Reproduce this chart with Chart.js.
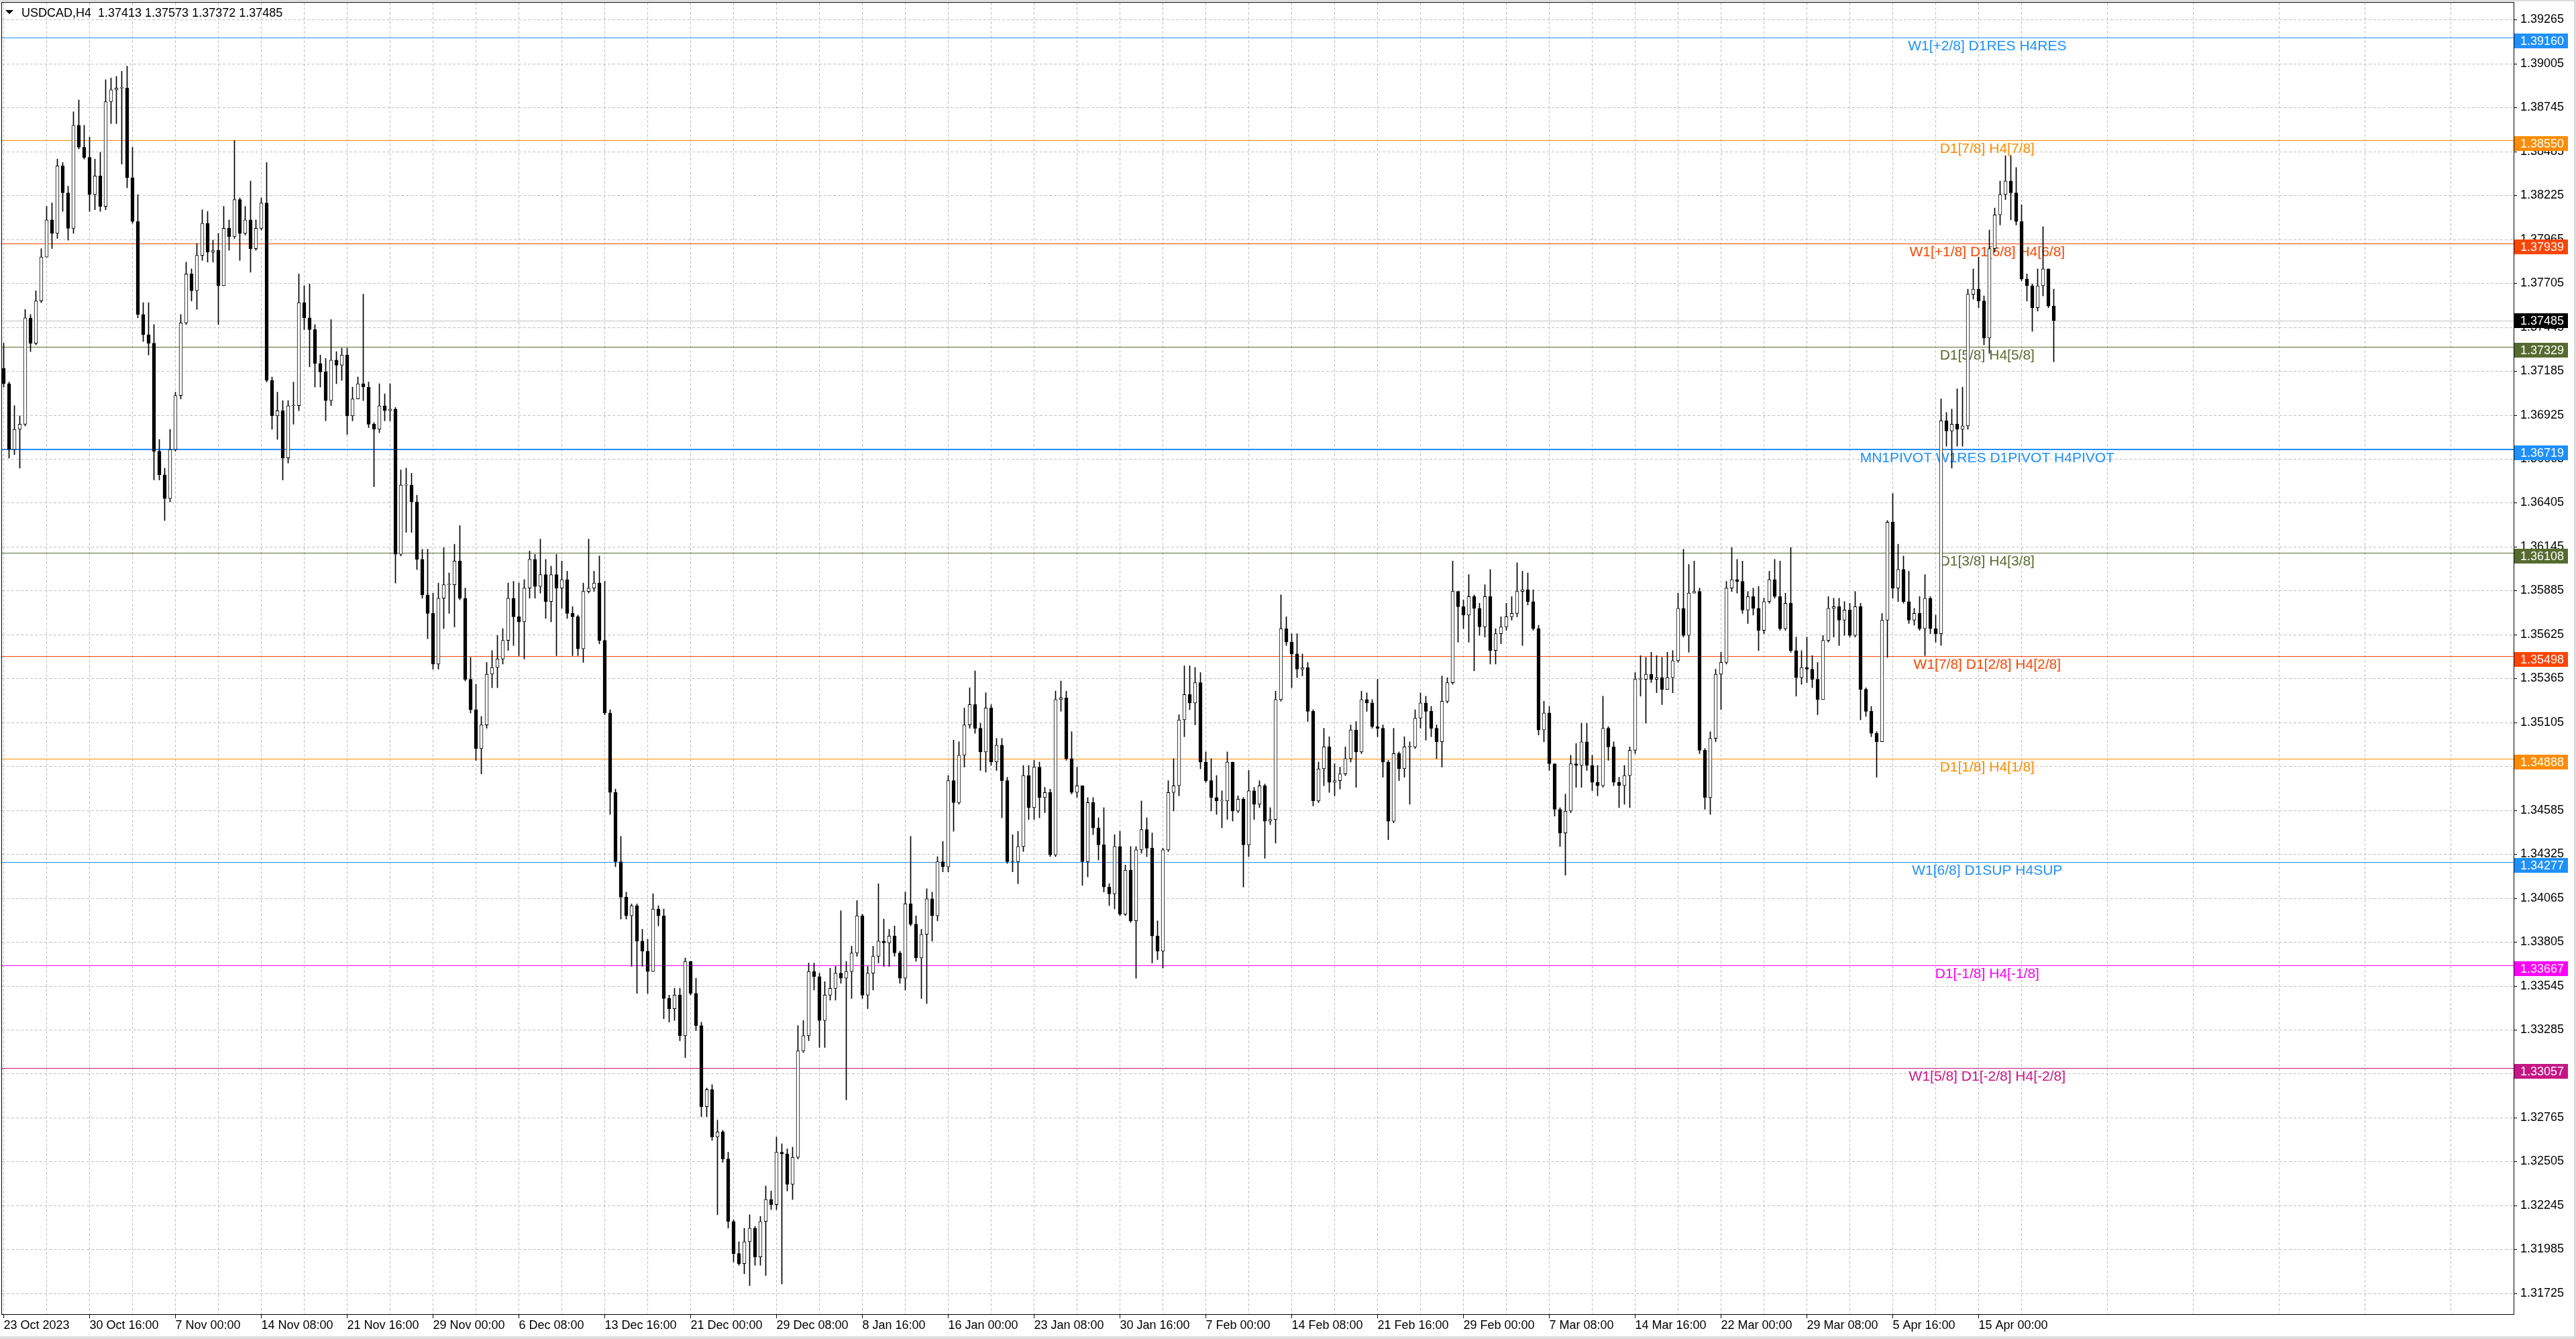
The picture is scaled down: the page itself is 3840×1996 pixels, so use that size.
<!DOCTYPE html>
<html>
<head>
<meta charset="utf-8">
<title>USDCAD,H4</title>
<script src="https://cdn.jsdelivr.net/npm/chart.js@4.4.1/dist/chart.umd.min.js"></script>
<style>
  html, body { margin: 0; padding: 0; background: #fff; overflow: hidden; }
  #wrap { width: 3840px; height: 1996px; position: relative; }
</style>
</head>
<body>
<div id="wrap"><canvas id="chart"></canvas></div>
<script>
// USDCAD H4, one candle per two H4 bars, open = previous close
const titleSymbol = 'USDCAD,H4';
const titleQuote = '1.37413 1.37573 1.37372 1.37485';
const firstOpen = 1.3720;
const lastPrice = 1.37485;

const closes = [
  1.3711, 1.3672, 1.3684, 1.3687, 1.3750, 1.3735, 1.3760, 1.3786, 1.3808, 1.3800,
  1.3840, 1.3824, 1.3803, 1.3864, 1.3851, 1.3845, 1.3823, 1.3834, 1.3816, 1.3878,
  1.3885, 1.3886, 1.3886, 1.3833, 1.3807, 1.3752, 1.3740, 1.3735, 1.3671, 1.3657,
  1.3643, 1.3672, 1.3704, 1.3747, 1.3776, 1.3766, 1.3787, 1.3806, 1.3789, 1.3790,
  1.3769, 1.3803, 1.3798, 1.3820, 1.3800, 1.3808, 1.3791, 1.3803, 1.3818, 1.3713,
  1.3692, 1.3695, 1.3667, 1.3698, 1.3698, 1.3759, 1.3750, 1.3743, 1.3723, 1.3718,
  1.3701, 1.3725, 1.3722, 1.3728, 1.3692, 1.3702, 1.3711, 1.3709, 1.3687, 1.3684,
  1.3698, 1.3695, 1.3696, 1.3610, 1.3651, 1.3651, 1.3641, 1.3607, 1.3586, 1.3575,
  1.3545, 1.3584, 1.3592, 1.3592, 1.3606, 1.3584, 1.3536, 1.3518, 1.3495, 1.3509,
  1.3539, 1.3543, 1.3548, 1.3559, 1.3584, 1.3573, 1.3570, 1.3590, 1.3607, 1.3591,
  1.3598, 1.3582, 1.3598, 1.3590, 1.3595, 1.3575, 1.3573, 1.3554, 1.3588, 1.3590,
  1.3593, 1.3559, 1.3516, 1.3469, 1.3428, 1.3407, 1.3396, 1.3402, 1.3381, 1.3375,
  1.3363, 1.3400, 1.3396, 1.3347, 1.3341, 1.3349, 1.3325, 1.3369, 1.3350, 1.3331,
  1.3283, 1.3293, 1.3265, 1.3268, 1.3252, 1.3215, 1.3196, 1.3190, 1.3203, 1.3211,
  1.3194, 1.3215, 1.3228, 1.3225, 1.3256, 1.3255, 1.3237, 1.3253, 1.3316, 1.3325,
  1.3363, 1.3360, 1.3334, 1.3349, 1.3353, 1.3362, 1.3359, 1.3363, 1.3374, 1.3396,
  1.3349, 1.3362, 1.3372, 1.3381, 1.3380, 1.3384, 1.3374, 1.3359, 1.3403, 1.3391,
  1.3371, 1.3385, 1.3406, 1.3396, 1.3428, 1.3425, 1.3476, 1.3463, 1.3491, 1.3509,
  1.3521, 1.3507, 1.3493, 1.3519, 1.3487, 1.3497, 1.3476, 1.3428, 1.3428, 1.3437,
  1.3479, 1.3460, 1.3484, 1.3466, 1.3469, 1.3432, 1.3524, 1.3525, 1.3489, 1.3469,
  1.3473, 1.3428, 1.3463, 1.3448, 1.3438, 1.3413, 1.3409, 1.3437, 1.3397, 1.3423,
  1.3393, 1.3435, 1.3447, 1.3436, 1.3384, 1.3375, 1.3435, 1.3469, 1.3473, 1.3512,
  1.3527, 1.3522, 1.3534, 1.3487, 1.3476, 1.3466, 1.3464, 1.3464, 1.3487, 1.3458,
  1.3465, 1.3438, 1.3470, 1.3462, 1.3473, 1.3452, 1.3453, 1.3524, 1.3566, 1.3558,
  1.3551, 1.3542, 1.3543, 1.3517, 1.3464, 1.3483, 1.3496, 1.3475, 1.3476, 1.3480,
  1.3489, 1.3506, 1.3493, 1.3524, 1.3522, 1.3508, 1.3507, 1.3487, 1.3452, 1.3492,
  1.3483, 1.3496, 1.3496, 1.3513, 1.3522, 1.3517, 1.3507, 1.3499, 1.3523, 1.3534,
  1.3588, 1.3579, 1.3574, 1.3585, 1.3578, 1.3567, 1.3585, 1.3553, 1.3563, 1.3567,
  1.3573, 1.3575, 1.3588, 1.3589, 1.3582, 1.3566, 1.3506, 1.3516, 1.3486, 1.3459,
  1.3445, 1.3458, 1.3486, 1.3485, 1.3499, 1.3485, 1.3475, 1.3473, 1.3507, 1.3496,
  1.3475, 1.3473, 1.3479, 1.3494, 1.3536, 1.3536, 1.3539, 1.3536, 1.3537, 1.3530,
  1.3537, 1.3547, 1.3578, 1.3562, 1.3587, 1.3588, 1.3494, 1.3466, 1.3501, 1.3539,
  1.3546, 1.3590, 1.3595, 1.3594, 1.3577, 1.3585, 1.3578, 1.3565, 1.3582, 1.3595,
  1.3585, 1.3566, 1.3581, 1.3553, 1.3537, 1.3543, 1.3542, 1.3536, 1.3524, 1.3559,
  1.3578, 1.3579, 1.3571, 1.3577, 1.3562, 1.3579, 1.3530, 1.3517, 1.3504, 1.3499,
  1.3571, 1.3629, 1.3590, 1.3601, 1.3582, 1.3571, 1.3575, 1.3566, 1.3584, 1.3566,
  1.3563, 1.3689, 1.3683, 1.3687, 1.3684, 1.3686, 1.3764, 1.3767, 1.3760, 1.3738,
  1.3791, 1.3811, 1.3823, 1.3831, 1.3824, 1.3807, 1.3773, 1.3769, 1.3756, 1.3769,
  1.3779, 1.3757, 1.37485
];

const highs = [
  1.3735, 1.3712, 1.3698, 1.3692, 1.3755, 1.3752, 1.3766, 1.3791, 1.3816, 1.3818,
  1.3844, 1.3842, 1.3828, 1.3872, 1.3879, 1.3864, 1.3857, 1.3844, 1.3848, 1.3891,
  1.3892, 1.3893, 1.3896, 1.3899, 1.3851, 1.3823, 1.3759, 1.3759, 1.3746, 1.3678,
  1.3661, 1.3684, 1.3706, 1.3752, 1.3783, 1.3779, 1.3794, 1.3814, 1.3813, 1.3796,
  1.3800, 1.3816, 1.3808, 1.3855, 1.3821, 1.3816, 1.3831, 1.3808, 1.3821, 1.3842,
  1.3715, 1.3706, 1.3701, 1.3701, 1.3712, 1.3776, 1.3769, 1.3770, 1.3746, 1.3728,
  1.3726, 1.3749, 1.3730, 1.3732, 1.3732, 1.3709, 1.3715, 1.3764, 1.3712, 1.3688,
  1.3711, 1.3705, 1.3711, 1.3697, 1.3660, 1.3661, 1.3658, 1.3645, 1.3613, 1.3613,
  1.3587, 1.3593, 1.3614, 1.3599, 1.3616, 1.3627, 1.3590, 1.3549, 1.3533, 1.3514,
  1.3546, 1.3553, 1.3562, 1.3566, 1.3593, 1.3594, 1.3593, 1.3595, 1.3612, 1.3610,
  1.3619, 1.3607, 1.3603, 1.3610, 1.3606, 1.3600, 1.3579, 1.3574, 1.3593, 1.3619,
  1.3600, 1.3609, 1.3594, 1.3518, 1.3471, 1.3443, 1.3410, 1.3403, 1.3403, 1.3388,
  1.3382, 1.3409, 1.3402, 1.3400, 1.3349, 1.3353, 1.3353, 1.3371, 1.3369, 1.3359,
  1.3333, 1.3294, 1.3296, 1.3275, 1.3269, 1.3256, 1.3216, 1.3203, 1.3211, 1.3219,
  1.3212, 1.3218, 1.3236, 1.3233, 1.3265, 1.3261, 1.3258, 1.3259, 1.3331, 1.3334,
  1.3368, 1.3368, 1.3362, 1.3357, 1.3365, 1.3366, 1.3399, 1.3369, 1.3378, 1.3405,
  1.3397, 1.3366, 1.3378, 1.3415, 1.3394, 1.3388, 1.3390, 1.3375, 1.3410, 1.3443,
  1.3396, 1.3388, 1.3412, 1.3410, 1.3431, 1.3440, 1.3479, 1.3500, 1.3499, 1.3519,
  1.3531, 1.3541, 1.3510, 1.3528, 1.3521, 1.3501, 1.3501, 1.3478, 1.3444, 1.3446,
  1.3485, 1.3485, 1.3488, 1.3487, 1.3472, 1.3471, 1.3529, 1.3535, 1.3529, 1.3505,
  1.3484, 1.3473, 1.3466, 1.3466, 1.3454, 1.3460, 1.3415, 1.3444, 1.3446, 1.3426,
  1.3437, 1.3437, 1.3464, 1.3454, 1.3445, 1.3393, 1.3436, 1.3476, 1.3489, 1.3515,
  1.3544, 1.3544, 1.3543, 1.3540, 1.3493, 1.3489, 1.3479, 1.3470, 1.3493, 1.3487,
  1.3467, 1.3466, 1.3482, 1.3472, 1.3476, 1.3474, 1.3460, 1.3529, 1.3586, 1.3573,
  1.3563, 1.3563, 1.3551, 1.3546, 1.3518, 1.3487, 1.3507, 1.3502, 1.3486, 1.3484,
  1.3496, 1.3509, 1.3511, 1.3529, 1.3528, 1.3524, 1.3536, 1.3509, 1.3488, 1.3507,
  1.3493, 1.3502, 1.3499, 1.3518, 1.3528, 1.3526, 1.3520, 1.3509, 1.3538, 1.3537,
  1.3606, 1.3588, 1.3583, 1.3598, 1.3586, 1.3581, 1.3592, 1.3601, 1.3566, 1.3573,
  1.3581, 1.3585, 1.3605, 1.3600, 1.3599, 1.3589, 1.3568, 1.3523, 1.3520, 1.3486,
  1.3460, 1.3468, 1.3491, 1.3498, 1.3510, 1.3510, 1.3491, 1.3485, 1.3526, 1.3508,
  1.3499, 1.3478, 1.3485, 1.3496, 1.3540, 1.3550, 1.3549, 1.3552, 1.3550, 1.3549,
  1.3552, 1.3553, 1.3587, 1.3613, 1.3604, 1.3606, 1.3590, 1.3495, 1.3505, 1.3542,
  1.3552, 1.3594, 1.3614, 1.3607, 1.3606, 1.3588, 1.3590, 1.3591, 1.3584, 1.3600,
  1.3607, 1.3606, 1.3587, 1.3614, 1.3561, 1.3553, 1.3561, 1.3550, 1.3546, 1.3562,
  1.3585, 1.3584, 1.3584, 1.3582, 1.3581, 1.3588, 1.3581, 1.3531, 1.3520, 1.3505,
  1.3575, 1.3630, 1.3646, 1.3616, 1.3609, 1.3600, 1.3578, 1.3585, 1.3598, 1.3585,
  1.3574, 1.3702, 1.3694, 1.3696, 1.3708, 1.3709, 1.3767, 1.3779, 1.3786, 1.3763,
  1.3802, 1.3815, 1.3831, 1.3846, 1.3846, 1.3839, 1.3817, 1.3776, 1.3770, 1.3779,
  1.3804, 1.3779, 1.3767
];

const lows = [
  1.3709, 1.3667, 1.3669, 1.3661, 1.3686, 1.3730, 1.3734, 1.3759, 1.3786, 1.3791,
  1.3797, 1.3813, 1.3796, 1.3800, 1.3850, 1.3844, 1.3813, 1.3814, 1.3813, 1.3814,
  1.3865, 1.3865, 1.3841, 1.3827, 1.3806, 1.3750, 1.3736, 1.3728, 1.3654, 1.3654,
  1.3630, 1.3641, 1.3671, 1.3702, 1.3746, 1.3760, 1.3755, 1.3784, 1.3783, 1.3783,
  1.3746, 1.3769, 1.3790, 1.3797, 1.3784, 1.3799, 1.3777, 1.3790, 1.3802, 1.3712,
  1.3684, 1.3678, 1.3654, 1.3664, 1.3687, 1.3695, 1.3743, 1.3721, 1.3709, 1.3709,
  1.3689, 1.3698, 1.3711, 1.3713, 1.3681, 1.3689, 1.3702, 1.3701, 1.3685, 1.3650,
  1.3682, 1.3689, 1.3689, 1.3593, 1.3609, 1.3623, 1.3623, 1.3601, 1.3584, 1.3560,
  1.3542, 1.3542, 1.3566, 1.3575, 1.3567, 1.3583, 1.3535, 1.3516, 1.3488, 1.3480,
  1.3507, 1.3531, 1.3531, 1.3545, 1.3553, 1.3556, 1.3550, 1.3548, 1.3584, 1.3584,
  1.3587, 1.3572, 1.3570, 1.3550, 1.3578, 1.3572, 1.3550, 1.3550, 1.3546, 1.3587,
  1.3588, 1.3557, 1.3515, 1.3456, 1.3425, 1.3394, 1.3394, 1.3366, 1.3350, 1.3366,
  1.3350, 1.3363, 1.3390, 1.3335, 1.3333, 1.3334, 1.3322, 1.3312, 1.3349, 1.3328,
  1.3277, 1.3277, 1.3263, 1.3219, 1.3250, 1.3211, 1.3191, 1.3189, 1.3184, 1.3177,
  1.3189, 1.3189, 1.3183, 1.3222, 1.3222, 1.3178, 1.3233, 1.3228, 1.3252, 1.3315,
  1.3322, 1.3352, 1.3318, 1.3318, 1.3346, 1.3346, 1.3356, 1.3287, 1.3347, 1.3372,
  1.3347, 1.3341, 1.3352, 1.3368, 1.3366, 1.3366, 1.3372, 1.3356, 1.3352, 1.3390,
  1.3369, 1.3347, 1.3344, 1.3381, 1.3393, 1.3422, 1.3422, 1.3446, 1.3462, 1.3484,
  1.3507, 1.3504, 1.3482, 1.3481, 1.3485, 1.3482, 1.3454, 1.3427, 1.3422, 1.3415,
  1.3434, 1.3453, 1.3453, 1.3454, 1.3457, 1.3431, 1.3431, 1.3517, 1.3488, 1.3468,
  1.3466, 1.3414, 1.3419, 1.3444, 1.3429, 1.3410, 1.3402, 1.3400, 1.3396, 1.3396,
  1.3392, 1.3359, 1.3433, 1.3431, 1.3368, 1.3370, 1.3365, 1.3434, 1.3458, 1.3467,
  1.3502, 1.3518, 1.3509, 1.3483, 1.3475, 1.3458, 1.3456, 1.3448, 1.3453, 1.3452,
  1.3457, 1.3413, 1.3431, 1.3453, 1.3460, 1.3430, 1.3450, 1.3439, 1.3523, 1.3556,
  1.3531, 1.3537, 1.3538, 1.3511, 1.3461, 1.3463, 1.3473, 1.3469, 1.3467, 1.3471,
  1.3479, 1.3487, 1.3472, 1.3492, 1.3517, 1.3507, 1.3502, 1.3478, 1.3441, 1.3451,
  1.3476, 1.3478, 1.3462, 1.3495, 1.3507, 1.3500, 1.3502, 1.3489, 1.3484, 1.3522,
  1.3533, 1.3558, 1.3566, 1.3558, 1.3541, 1.3562, 1.3561, 1.3545, 1.3545, 1.3557,
  1.3565, 1.3571, 1.3573, 1.3556, 1.3580, 1.3565, 1.3503, 1.3499, 1.3482, 1.3455,
  1.3437, 1.3420, 1.3457, 1.3472, 1.3472, 1.3482, 1.3470, 1.3467, 1.3472, 1.3488,
  1.3473, 1.3460, 1.3462, 1.3460, 1.3492, 1.3526, 1.3510, 1.3534, 1.3528, 1.3521,
  1.3531, 1.3528, 1.3546, 1.3561, 1.3552, 1.3587, 1.3492, 1.3459, 1.3456, 1.3499,
  1.3518, 1.3545, 1.3588, 1.3587, 1.3575, 1.3569, 1.3574, 1.3553, 1.3563, 1.3581,
  1.3584, 1.3565, 1.3565, 1.3552, 1.3526, 1.3533, 1.3534, 1.3531, 1.3515, 1.3524,
  1.3558, 1.3561, 1.3556, 1.3562, 1.3561, 1.3561, 1.3512, 1.3514, 1.3502, 1.3478,
  1.3499, 1.3549, 1.3584, 1.3582, 1.3581, 1.3569, 1.3568, 1.3565, 1.3550, 1.3563,
  1.3558, 1.3556, 1.3674, 1.3661, 1.3674, 1.3674, 1.3684, 1.3761, 1.3756, 1.3734,
  1.3729, 1.3789, 1.3805, 1.3820, 1.3808, 1.3805, 1.3772, 1.3760, 1.3742, 1.3754,
  1.3763, 1.3756, 1.3724
];

// one label every 16 candles, starting at candle 0
const timeLabels = [
  '23 Oct 2023', '30 Oct 16:00', '7 Nov 00:00', '14 Nov 08:00', '21 Nov 16:00', '29 Nov 00:00',
  '6 Dec 08:00', '13 Dec 16:00', '21 Dec 00:00', '29 Dec 08:00', '8 Jan 16:00', '16 Jan 00:00',
  '23 Jan 08:00', '30 Jan 16:00', '7 Feb 00:00', '14 Feb 08:00', '21 Feb 16:00', '29 Feb 00:00',
  '7 Mar 08:00', '14 Mar 16:00', '22 Mar 00:00', '29 Mar 08:00', '5 Apr 16:00', '15 Apr 00:00'
];

const priceTicks = [
  1.39265, 1.39005, 1.38745, 1.38485, 1.38225, 1.37965, 1.37705, 1.37445, 1.37185, 1.36925,
  1.36665, 1.36405, 1.36145, 1.35885, 1.35625, 1.35365, 1.35105, 1.34845, 1.34585, 1.34325,
  1.34065, 1.33805, 1.33545, 1.33285, 1.33025, 1.32765, 1.32505, 1.32245, 1.31985, 1.31725
];

const levelPrices = [1.39160, 1.38550, 1.37939, 1.37329, 1.36719, 1.36108, 1.35498, 1.34888, 1.34277, 1.33667, 1.33057];
const levelNames = [
  'W1[+2/8] D1RES H4RES',
  'D1[7/8] H4[7/8]',
  'W1[+1/8] D1[6/8] H4[6/8]',
  'D1[5/8] H4[5/8]',
  'MN1PIVOT W1RES D1PIVOT H4PIVOT',
  'D1[3/8] H4[3/8]',
  'W1[7/8] D1[2/8] H4[2/8]',
  'D1[1/8] H4[1/8]',
  'W1[6/8] D1SUP H4SUP',
  'D1[-1/8] H4[-1/8]',
  'W1[5/8] D1[-2/8] H4[-2/8]'
];
const levelColors = ['#1e90ff', '#ff8c00', '#ff4500', '#556b2f', '#1e90ff', '#556b2f',
                     '#ff4500', '#ff8c00', '#1e90ff', '#ff00ff', '#c71585'];
const levelWidths = [1, 1, 1, 1, 2, 1, 1, 1, 1, 1, 1];
const levelLabelSlot = 369.6;

const FONT = '"Liberation Sans", Arial, sans-serif';
Chart.defaults.font.family = FONT;
Chart.defaults.font.size = 18;
Chart.defaults.color = '#000';

const opens = closes.map((c, i) => (i === 0 ? firstOpen : closes[i - 1]));
const bodies = closes.map((c, i) => ({ x: i, y: [opens[i], c] }));
const wicks = closes.map((c, i) => ({ x: i, y: [lows[i], highs[i]] }));

const gridSlots = [];
for (let s = 0; s < 468; s += 8) gridSlots.push(s);

const crisp = v => Math.round(v) + 0.5;

const mtPlugin = {
  id: 'mt4look',
  beforeDatasetsDraw(chart) {
    const { ctx, chartArea: a, scales: { x, y } } = chart;
    ctx.save();
    // dashed grid
    ctx.strokeStyle = '#c0c0c0';
    ctx.lineWidth = 1;
    ctx.setLineDash([4, 3]);
    ctx.beginPath();
    x.ticks.forEach(t => {
      const px = Math.floor(x.getPixelForValue(t.value)) + 0.5;
      ctx.moveTo(px, a.top);
      ctx.lineTo(px, a.bottom);
    });
    y.ticks.forEach(t => {
      const py = crisp(y.getPixelForValue(t.value));
      ctx.moveTo(a.left, py);
      ctx.lineTo(a.right, py);
    });
    ctx.stroke();
    ctx.setLineDash([]);

    // bid line
    ctx.strokeStyle = '#c0c0c0';
    ctx.beginPath();
    const by = crisp(y.getPixelForValue(lastPrice));
    ctx.moveTo(a.left, by);
    ctx.lineTo(a.right, by);
    ctx.stroke();

    // levels and their names
    ctx.font = '21px ' + FONT;
    ctx.textAlign = 'center';
    ctx.textBaseline = 'alphabetic';
    const lx = x.getPixelForValue(levelLabelSlot);
    levelPrices.forEach((p, i) => {
      const w = levelWidths[i];
      const raw = Math.round(y.getPixelForValue(p));
      const py = w % 2 ? raw + 0.5 : raw;
      ctx.strokeStyle = levelColors[i];
      ctx.lineWidth = w;
      ctx.beginPath();
      ctx.moveTo(a.left, py);
      ctx.lineTo(a.right, py);
      ctx.stroke();
      ctx.fillStyle = levelColors[i];
      ctx.fillText(levelNames[i], lx, raw + 19);
    });
    ctx.restore();
  },
  afterDraw(chart) {
    const { ctx, chartArea: a, scales: { x, y } } = chart;
    ctx.save();
    // window edge
    ctx.fillStyle = '#dcdcdc';
    ctx.fillRect(0, 0, chart.width, 2);
    ctx.fillRect(0, chart.height - 4, chart.width, 4);
    ctx.fillRect(chart.width - 3, 0, 3, chart.height);

    // plot frame
    ctx.strokeStyle = '#000';
    ctx.lineWidth = 1;
    ctx.strokeRect(a.left - 0.5, a.top - 0.5, a.right - a.left + 1, a.bottom - a.top + 1);

    // axis tick marks
    ctx.beginPath();
    y.ticks.forEach(t => {
      const py = crisp(y.getPixelForValue(t.value));
      ctx.moveTo(a.right, py);
      ctx.lineTo(a.right + 5, py);
    });
    x.ticks.forEach(t => {
      if (t.value % 16 !== 0) return;
      const px = Math.floor(x.getPixelForValue(t.value)) + 0.5;
      ctx.moveTo(px, a.bottom);
      ctx.lineTo(px, a.bottom + 6);
    });
    ctx.stroke();

    // price boxes on the axis; level boxes sit a little under their line
    ctx.font = '18px ' + FONT;
    ctx.textAlign = 'left';
    ctx.textBaseline = 'middle';
    const box = (p, color, shift) => {
      const py = Math.round(y.getPixelForValue(p)) + shift;
      ctx.fillStyle = color;
      ctx.fillRect(a.right + 1, py - 11, 80, 22);
      ctx.fillStyle = '#fff';
      ctx.fillText(p.toFixed(5), a.right + 10, py + 1);
    };
    levelPrices.forEach((p, i) => box(p, levelColors[i], 5));
    box(lastPrice, '#000', 0);

    // title
    ctx.fillStyle = '#000';
    ctx.beginPath();
    ctx.moveTo(8, 15);
    ctx.lineTo(20, 15);
    ctx.lineTo(14, 21);
    ctx.closePath();
    ctx.fill();
    ctx.textBaseline = 'middle';
    ctx.fillText(titleSymbol, 32, 20);
    ctx.fillText(titleQuote, 146, 20);
    ctx.restore();
  }
};

new Chart(document.getElementById('chart'), {
  type: 'bar',
  data: {
    datasets: [
      {
        label: 'body',
        data: bodies,
        grouped: false,
        barThickness: 5,
        minBarLength: 1,
        borderWidth: 1,
        borderSkipped: false,
        borderColor: '#000',
        backgroundColor: ctx => (closes[ctx.dataIndex] >= opens[ctx.dataIndex] ? '#fff' : '#000')
      },
      {
        label: 'wick',
        data: wicks,
        grouped: false,
        barThickness: 1,
        borderWidth: 0,
        backgroundColor: '#000'
      }
    ]
  },
  options: {
    responsive: true,
    maintainAspectRatio: false,
    devicePixelRatio: 1,
    animation: false,
    events: [],
    layout: { autoPadding: false, padding: { left: 3, top: 4, right: 0, bottom: 0 } },
    plugins: { legend: { display: false }, tooltip: { enabled: false } },
    scales: {
      x: {
        type: 'linear',
        offset: false,
        min: -0.3125,
        max: 467.6875,
        grid: { display: false, drawTicks: false },
        border: { display: false },
        afterBuildTicks: s => { s.ticks = gridSlots.map(v => ({ value: v })); },
        afterFit: s => { s.height = 37; s.paddingLeft = 0; s.paddingRight = 0; },
        ticks: {
          autoSkip: false,
          maxRotation: 0,
          minRotation: 0,
          align: 'start',
          padding: 6,
          font: { size: 18 },
          callback: v => (v % 16 === 0 ? timeLabels[v / 16] : '')
        }
      },
      y: {
        position: 'right',
        min: 1.31601,
        max: 1.39366,
        grid: { display: false, drawTicks: false },
        border: { display: false },
        afterBuildTicks: s => { s.ticks = priceTicks.map(v => ({ value: v })); },
        afterFit: s => { s.width = 93; s.paddingTop = 0; s.paddingBottom = 0; },
        ticks: {
          autoSkip: false,
          padding: 10,
          font: { size: 18 },
          callback: v => v.toFixed(5)
        }
      }
    }
  },
  plugins: [mtPlugin]
});
</script>
</body>
</html>
